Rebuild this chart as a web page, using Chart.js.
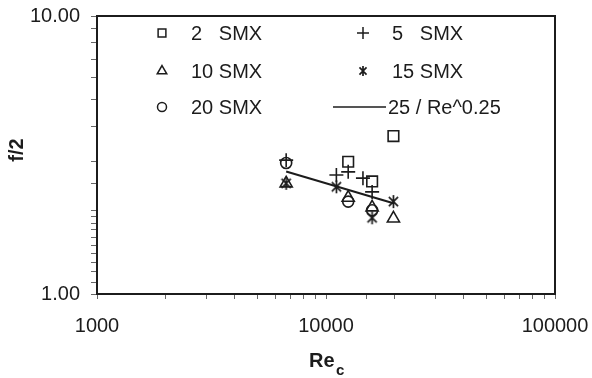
<!DOCTYPE html>
<html>
<head>
<meta charset="utf-8">
<script src="https://cdn.jsdelivr.net/npm/chart.js@4/dist/chart.umd.min.js"></script>
<style>
  html, body { margin: 0; padding: 0; background: #fff; }
  #wrap { width: 592px; height: 378px; }
</style>
</head>
<body>
<div id="wrap"><canvas id="frictionChart" width="592" height="378"></canvas></div>
<script>
// values
const smx2Re = [12500, 15900, 19700];
const smx2F = [2.99, 2.54, 3.70];
const smx5Re = [6700, 11100, 12500, 14500, 15900];
const smx5F = [3.03, 2.68, 2.75, 2.61, 2.33];
const smx10Re = [6700, 12500, 15900, 19700];
const smx10F = [2.50, 2.22, 2.05, 1.87];
const smx15Re = [6700, 11100, 15900, 19700];
const smx15F = [2.50, 2.43, 1.88, 2.15];
const smx20Re = [6700, 12500, 15900];
const smx20F = [2.96, 2.15, 2.00];
const fitRe = [6700, 19700];
const fitF = [2.76, 2.12];

const seriesNames = ['2 SMX', '5 SMX', '10 SMX', '15 SMX', '20 SMX', '25 / Re^0.25'];
const xTickLabels = [1000, 10000, 100000];
const yTickLabels = [1, 10];

const ink = '#1c1c1c';
const fontFam = '"Liberation Sans", Arial, sans-serif';

const toPoints = (xs, ys) => xs.map((x, i) => ({ x: x, y: ys[i] }));

// 6 spoke asterisk for the 15 SMX series
function makeAsterisk(size) {
	const c = document.createElement('canvas');
	c.width = size; c.height = size;
	const g = c.getContext('2d');
	const m = size / 2, r = size / 2 - 1;
	g.strokeStyle = ink;
	g.lineWidth = 1.7;
	g.beginPath();
	g.moveTo(m, m - r); g.lineTo(m, m + r);
	const a = Math.PI / 4;
	g.moveTo(m - r * Math.sin(a), m - r * Math.cos(a)); g.lineTo(m + r * Math.sin(a), m + r * Math.cos(a));
	g.moveTo(m + r * Math.sin(a), m - r * Math.cos(a)); g.lineTo(m - r * Math.sin(a), m + r * Math.cos(a));
	g.stroke();
	return c;
}
const asterisk = makeAsterisk(15);
const asteriskSmall = makeAsterisk(12);

const markerSet = (style, radius) => ({
	type: 'scatter',
	showLine: false,
	pointStyle: style,
	pointRadius: radius,
	pointHoverRadius: radius,
	pointBorderColor: ink,
	pointBackgroundColor: 'rgba(0,0,0,0)',
	pointBorderWidth: 1.6
});

const datasets = [
	Object.assign({ label: seriesNames[0], data: toPoints(smx2Re, smx2F) }, markerSet('rect', 7.5)),
	Object.assign({ label: seriesNames[1], data: toPoints(smx5Re, smx5F) }, markerSet('cross', 7)),
	Object.assign({ label: seriesNames[2], data: toPoints(smx10Re, smx10F) }, markerSet('triangle', 7)),
	Object.assign({ label: seriesNames[3], data: toPoints(smx15Re, smx15F) }, markerSet(asterisk, 7)),
	Object.assign({ label: seriesNames[4], data: toPoints(smx20Re, smx20F) }, markerSet('circle', 5.5)),
	{
		type: 'line',
		label: seriesNames[5],
		data: toPoints(fitRe, fitF),
		borderColor: ink,
		borderWidth: 2,
		pointRadius: 0,
		fill: false,
		tension: 0
	}
];

// legend in two columns, plus the axis titles and frame
const decorPlugin = {
	id: 'decor',
	afterDraw(chart) {
		const ctx = chart.ctx;
		const area = chart.chartArea;
		ctx.save();

		ctx.strokeStyle = ink;
		ctx.lineWidth = 2;
		ctx.strokeRect(area.left, area.top, area.right - area.left, area.bottom - area.top);

		ctx.font = '20px ' + fontFam;
		ctx.textBaseline = 'middle';
		const rows = [33, 71, 107];
		const cols = [{ mark: 162, text: 191 }, { mark: 363, text: 392 }];
		const numWidth = ctx.measureText('10 ').width;
		const items = [
			{ ds: 0, c: 0, r: 0, style: 'rect', rad: 5.5 },
			{ ds: 1, c: 1, r: 0, style: 'cross', rad: 6 },
			{ ds: 2, c: 0, r: 1, style: 'triangle', rad: 5.5 },
			{ ds: 3, c: 1, r: 1, style: asteriskSmall, rad: 6 },
			{ ds: 4, c: 0, r: 2, style: 'circle', rad: 4.5 }
		];
		items.forEach(it => {
			const y = rows[it.r];
			ctx.strokeStyle = ink;
			ctx.fillStyle = 'rgba(0,0,0,0)';
			ctx.lineWidth = 1.5;
			Chart.helpers.drawPoint(ctx, { pointStyle: it.style, radius: it.rad, rotation: 0, borderWidth: 1.5 }, cols[it.c].mark, y);
			ctx.fillStyle = ink;
			const parts = seriesNames[it.ds].split(' ');
			ctx.fillText(parts[0], cols[it.c].text, y + 1);
			ctx.fillText(parts[1], cols[it.c].text + numWidth, y + 1);
		});
		// fit line entry
		ctx.strokeStyle = ink;
		ctx.lineWidth = 1.5;
		ctx.beginPath();
		ctx.moveTo(333, rows[2]);
		ctx.lineTo(386, rows[2]);
		ctx.stroke();
		ctx.fillText(seriesNames[5], 388, rows[2] + 1);

		// axis titles
		ctx.font = 'bold 20px ' + fontFam;
		ctx.textBaseline = 'alphabetic';
		ctx.textAlign = 'left';
		ctx.fillText('Re', 309, 367);
		ctx.font = 'bold 15px ' + fontFam;
		ctx.fillText('c', 336, 375);

		ctx.translate(17, 150);
		ctx.rotate(-Math.PI / 2);
		ctx.font = 'bold 20px ' + fontFam;
		ctx.textAlign = 'center';
		ctx.textBaseline = 'middle';
		ctx.fillText('f/2', 0, 0);
		ctx.restore();
	}
};

document.addEventListener('DOMContentLoaded', function () {
	const ctx = document.getElementById('frictionChart').getContext('2d');

	new Chart(ctx, {
		type: 'scatter',
		data: { datasets: datasets },
		options: {
			responsive: false,
			animation: false,
			layout: { padding: { left: 0, right: 37, top: 16, bottom: 0 } },
			plugins: {
				legend: { display: false },
				tooltip: { enabled: false }
			},
			scales: {
				x: {
					type: 'logarithmic',
					min: 1000,
					max: 100000,
					border: { display: false },
					grid: { drawOnChartArea: false, drawTicks: true, tickLength: 5, color: '#666', lineWidth: 1 },
					ticks: {
						autoSkip: false,
						maxRotation: 0,
						padding: 15,
						color: ink,
						font: { family: fontFam, size: 20 },
						callback: (v) => xTickLabels.includes(v) ? String(v) : ''
					},
					afterFit: (scale) => {
						scale.height = 84;
						scale.paddingLeft = 0;
						scale.paddingRight = 0;
					}
				},
				y: {
					type: 'logarithmic',
					min: 1,
					max: 10,
					border: { display: false },
					grid: { drawOnChartArea: false, drawTicks: true, tickLength: 6, color: '#666', lineWidth: 1 },
					ticks: {
						autoSkip: false,
						padding: 11,
						color: ink,
						font: { family: fontFam, size: 20 },
						callback: (v) => yTickLabels.includes(v) ? v.toFixed(2) : ''
					},
					afterFit: (scale) => {
						scale.width = 97;
						scale.paddingTop = 0;
						scale.paddingBottom = 0;
					}
				}
			}
		},
		plugins: [decorPlugin]
	});
});
</script>
</body>
</html>
